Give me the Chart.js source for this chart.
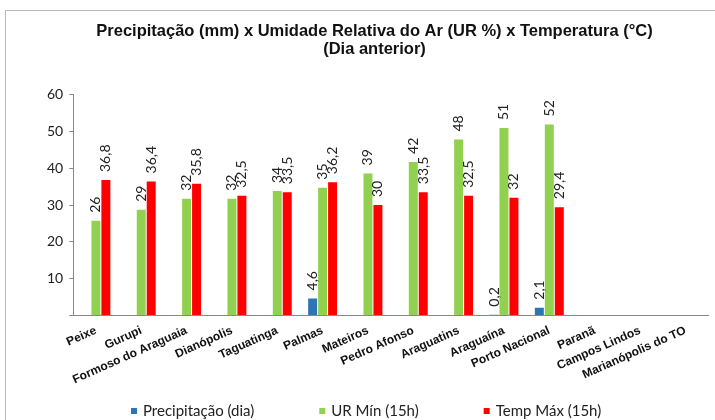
<!DOCTYPE html>
<html><head><meta charset="utf-8">
<script src="https://cdn.jsdelivr.net/npm/chart.js@4.4.0/dist/chart.umd.min.js"></script>
<style>
html,body{margin:0;padding:0;background:#fff;}
#wrap{position:absolute;left:0;top:0;width:715px;height:420px;}
#frame{position:absolute;left:5px;top:10px;width:720px;height:420px;border:1px solid #b8b8b8;box-sizing:border-box;pointer-events:none;}
canvas{position:absolute;left:0;top:0;}
</style></head>
<body>
<div id="wrap"><canvas id="c" width="715" height="420"></canvas><div id="frame"></div></div>
<script>
const categories = ["Peixe","Gurupi","Formoso do Araguaia","Dianópolis","Taguatinga","Palmas","Mateiros","Pedro Afonso","Araguatins","Araguaína","Porto Nacional","Paranã","Campos Lindos","Marianópolis do TO"];
const precipitacao = [null,null,null,null,null,4.6,null,null,null,0.2,2.1,null,null,null];
const urMin = [25.7,28.7,31.7,31.7,33.8,34.7,38.6,41.7,47.8,50.9,51.9,null,null,null];
const tempMax = [36.8,36.4,35.8,32.5,33.5,36.2,30,33.5,32.5,32,29.4,null,null,null];
const yTicks = [0,10,20,30,40,50,60];
const titleLines = ["Precipitação (mm) x Umidade Relativa do Ar (UR %) x Temperatura (°C)","(Dia anterior)"];

const labelPlugin = {
  id:'vlabels',
  afterDatasetsDraw(chart){
    const ctx = chart.ctx;
    chart.data.datasets.forEach((ds,i)=>{
      const meta = chart.getDatasetMeta(i);
      meta.data.forEach((el,j)=>{
        const v = ds.data[j];
        if(v===null||v===undefined) return;
        const txt = (ds.roundLabel ? Math.round(v) : v).toString().replace('.',',');
        ctx.save();
        ctx.translate(el.x, el.y - 8);
        ctx.rotate(-Math.PI/2);
        ctx.font = '14px Lato, "Open Sans", sans-serif';
        ctx.fillStyle = '#222';
        ctx.textAlign = 'left';
        ctx.textBaseline = 'middle';
        ctx.fillText(txt, 0, 0);
        ctx.restore();
      });
    });
  }
};

const legendPlugin = {
  id:'bottomLegend',
  afterDraw(chart){
    const ctx = chart.ctx;
    ctx.save();
    ctx.font = '15px Lato, sans-serif';
    const box = 6, gapText = 6, gapItem = 65;
    let x = 131;
    const y = 411;
    chart.data.datasets.forEach(d=>{
      const w = ctx.measureText(d.label).width;
      ctx.fillStyle = d.backgroundColor;
      ctx.fillRect(x, y-box/2, box, box);
      ctx.fillStyle = '#222';
      ctx.textBaseline = 'middle';
      ctx.textAlign = 'left';
      ctx.fillText(d.label, x+box+gapText, y);
      x += box+gapText+w+gapItem;
    });
    ctx.restore();
  }
};

new Chart(document.getElementById('c'), {
  type:'bar',
  data:{
    labels:categories,
    datasets:[
      {label:'Precipitação (dia)', data:precipitacao, backgroundColor:'#2E75B6'},
      {label:'UR Mín (15h)', data:urMin, backgroundColor:'#92D050', roundLabel:true},
      {label:'Temp Máx (15h)', data:tempMax, backgroundColor:'#FF0000'}
    ]
  },
  options:{
    responsive:false,
    animation:false,
    datasets:{bar:{categoryPercentage:0.66,barPercentage:0.9}},
    layout:{padding:{left:41,right:7,top:4,bottom:33}},
    plugins:{
      title:{display:true,text:titleLines,color:'#111',font:{family:'"Liberation Sans Narrow", "Liberation Sans", sans-serif',size:16.5,weight:'bold',lineHeight:1.08},padding:{top:19,bottom:36}},
      legend:{display:false},
      tooltip:{enabled:false}
    },
    scales:{
      y:{min:0,max:60,afterBuildTicks(ax){ax.ticks=yTicks.map(v=>({value:v}));},
        ticks:{color:'#222',font:{family:'Lato, sans-serif',size:14},padding:6,callback:v=>v===0?'':v},
        grid:{drawOnChartArea:false,drawTicks:true,tickLength:4,color:'#888'},
        border:{display:true,color:'#888'}},
      x:{ticks:{autoSkip:false,maxRotation:24,minRotation:24,color:'#111',font:{family:'"Liberation Sans", Arial, sans-serif',size:12,weight:'bold'},padding:0},
        grid:{display:false},border:{display:true,color:'#888'}}
    }
  },
  plugins:[labelPlugin, legendPlugin]
});
</script>
</body></html>
